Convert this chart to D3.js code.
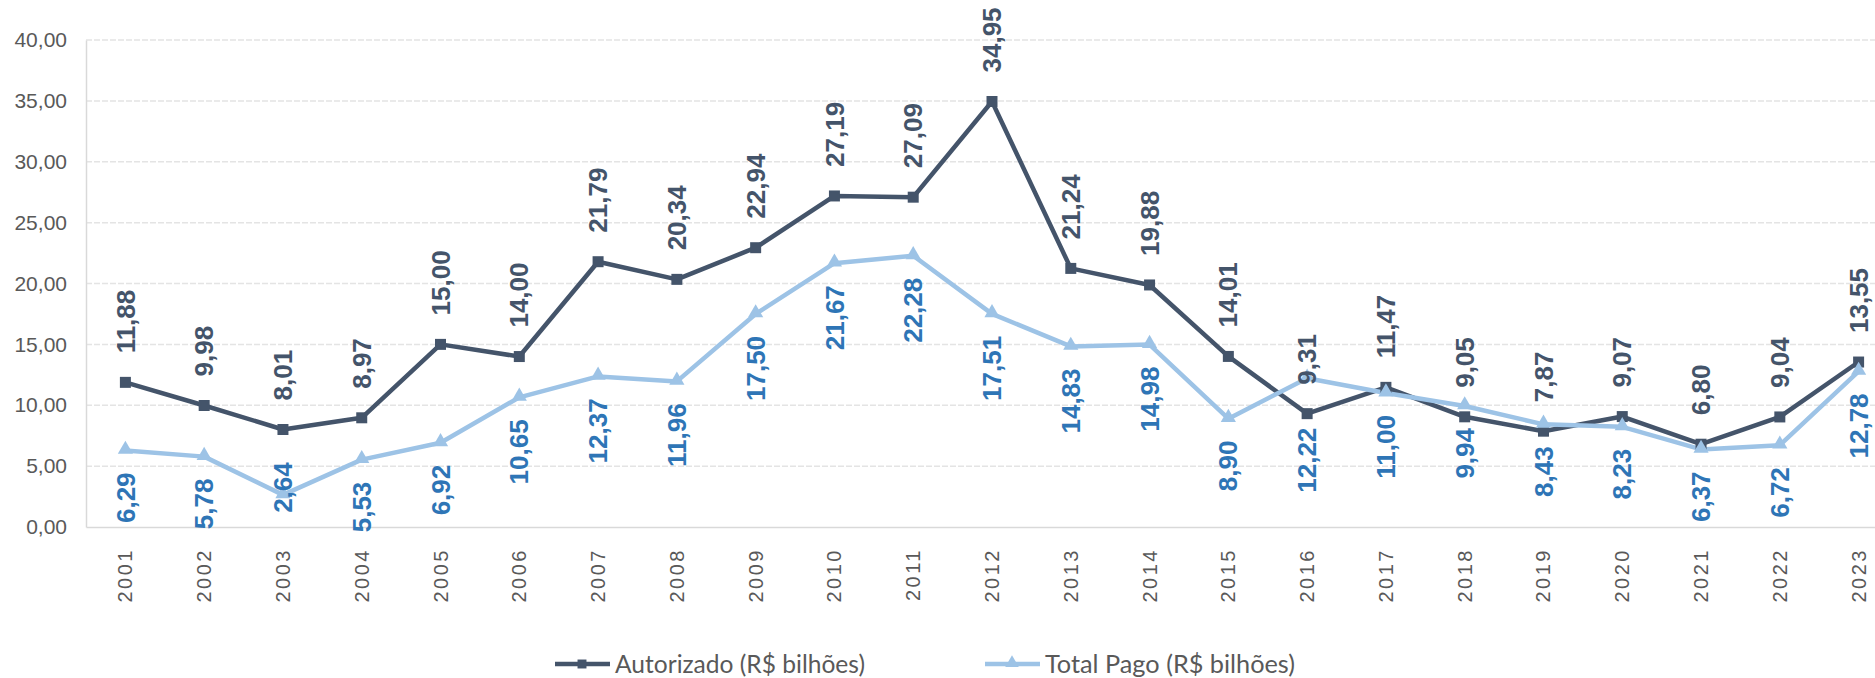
<!DOCTYPE html>
<html>
<head>
<meta charset="utf-8">
<script src="https://cdn.jsdelivr.net/npm/d3@7"></script>
<style>
  body { margin: 0; background: #fff; }
  svg { display: block; font-family: "Liberation Sans", Arial, sans-serif; }
</style>
</head>
<body>
<div id="chart"></div>
<script>
const years = ["2001","2002","2003","2004","2005","2006","2007","2008","2009","2010","2011","2012",
  "2013","2014","2015","2016","2017","2018","2019","2020","2021","2022","2023"];
const autorizado = [11.88, 9.98, 8.01, 8.97, 15.00, 14.00, 21.79, 20.34, 22.94, 27.19, 27.09, 34.95,
  21.24, 19.88, 14.01, 9.31, 11.47, 9.05, 7.87, 9.07, 6.80, 9.04, 13.55];
const totalPago = [6.29, 5.78, 2.64, 5.53, 6.92, 10.65, 12.37, 11.96, 17.50, 21.67, 22.28, 17.51,
  14.83, 14.98, 8.90, 12.22, 11.00, 9.94, 8.43, 8.23, 6.37, 6.72, 12.78];
const yTicks = [0, 5, 10, 15, 20, 25, 30, 35, 40];
const seriesNames = ["Autorizado (R$ bilhões)", "Total Pago (R$ bilhões)"];

const width = 1875, height = 678;
const plot = {left: 86, top: 40, bottom: 527, right: 1898};

const br = d3.formatLocale({decimal: ",", thousands: ".", grouping: [3], currency: ["R$ ", ""]});
const fmt = br.format(".2f");

const svg = d3.select("#chart").append("svg")
  .attr("width", width)
  .attr("height", height);

const x = d3.scaleBand()
  .domain(years)
  .range([plot.left, plot.right])
  .padding(0);
const cx = (d) => x(d) + x.bandwidth() / 2;

const y = d3.scaleLinear()
  .domain([0, 40])
  .range([plot.bottom, plot.top]);

// gridlines
svg.append("g")
  .selectAll("line")
  .data(yTicks.filter((t) => t > 0))
  .enter()
  .append("line")
  .attr("x1", plot.left)
  .attr("x2", width)
  .attr("y1", (d) => y(d))
  .attr("y2", (d) => y(d))
  .attr("stroke", "#e4e4e4")
  .attr("stroke-width", 1.5)
  .attr("stroke-dasharray", "6,2");

// y axis
const yAxis = d3.axisLeft(y)
  .tickValues(yTicks)
  .tickSize(0)
  .tickPadding(19)
  .tickFormat(fmt);

const gy = svg.append("g")
  .attr("class", "y-axis")
  .attr("transform", `translate(${plot.left},0)`)
  .call(yAxis);
gy.select(".domain").attr("stroke", "#d9d9d9").attr("stroke-width", 1.5);
gy.selectAll("text")
  .attr("fill", "#595959")
  .style("font-size", "21px")
  .style("font-family", "'Liberation Sans', Arial, sans-serif");

// x axis
const xAxis = d3.axisBottom(x).tickSize(0).tickFormat((d) => "");
const gx = svg.append("g")
  .attr("class", "x-axis")
  .attr("transform", `translate(0,${plot.bottom})`)
  .call(xAxis);
gx.select(".domain").attr("stroke", "#d9d9d9").attr("stroke-width", 1.5);

svg.append("g")
  .selectAll("text")
  .data(years)
  .enter()
  .append("text")
  .attr("transform", (d) => `translate(${cx(d)},${plot.bottom + 21}) rotate(-90)`)
  .attr("text-anchor", "end")
  .attr("dy", "0.35em")
  .attr("fill", "#595959")
  .style("font-size", "20px")
  .style("letter-spacing", "2.5px")
  .text((d) => d);

// lines
const line = d3.line()
  .x((d, i) => cx(years[i]))
  .y((d) => y(d));

const darkColor = "#44546a", lightColor = "#9dc3e6";
const darkLabel = "#44546a", lightLabel = "#2e75b6";

svg.append("path")
  .datum(autorizado)
  .attr("d", line)
  .attr("fill", "none")
  .attr("stroke", darkColor)
  .attr("stroke-width", 4.5)
  .attr("stroke-linejoin", "round");

svg.append("path")
  .datum(totalPago)
  .attr("d", line)
  .attr("fill", "none")
  .attr("stroke", lightColor)
  .attr("stroke-width", 4.5)
  .attr("stroke-linejoin", "round");

const square = d3.symbol().type(d3.symbolSquare).size(121);
const triangle = d3.symbol().type(d3.symbolTriangle).size(100);

svg.append("g")
  .selectAll("path")
  .data(autorizado)
  .enter()
  .append("path")
  .attr("d", square)
  .attr("transform", (d, i) => `translate(${cx(years[i])},${y(d)})`)
  .attr("fill", darkColor);

svg.append("g")
  .selectAll("path")
  .data(totalPago)
  .enter()
  .append("path")
  .attr("d", triangle)
  .attr("transform", (d, i) => `translate(${cx(years[i])},${y(d) - 1})`)
  .attr("fill", lightColor);

// data labels, rotated
svg.append("g")
  .selectAll("text")
  .data(autorizado)
  .enter()
  .append("text")
  .attr("transform", (d, i) => `translate(${cx(years[i])},${y(d) - 29}) rotate(-90)`)
  .attr("text-anchor", "start")
  .attr("dy", "0.35em")
  .attr("fill", darkLabel)
  .style("font-size", "26px")
  .style("font-weight", "bold")
  .text((d) => fmt(d));

const lowLabels = svg.append("g")
  .selectAll("text")
  .data(totalPago)
  .enter()
  .append("text")
  .attr("text-anchor", "end")
  .attr("dy", "0.35em")
  .attr("fill", lightLabel)
  .style("font-size", "26px")
  .style("font-weight", "bold")
  .text((d) => fmt(d));

lowLabels.each(function(d, i) {
  const len = this.getComputedTextLength();
  let top = y(d) + 22;
  // skip past the other marker if it sits under the label
  const other = y(autorizado[i]);
  if (other > top - 8 && other < top + len) top = other + 14;
  // keep labels that would run past the axis inside the chart
  if (top + len > plot.bottom + 10) top = y(d) + 18 - len;
  d3.select(this).attr("transform", `translate(${cx(years[i])},${top}) rotate(-90)`);
});

// legend
const legend = svg.append("g").attr("transform", "translate(0,664)");
const legendItems = [
  {name: seriesNames[0], color: darkColor, x: 555, sym: square},
  {name: seriesNames[1], color: lightColor, x: 985, sym: triangle}
];
legendItems.forEach((it) => {
  legend.append("line")
    .attr("x1", it.x)
    .attr("x2", it.x + 55)
    .attr("y1", 0)
    .attr("y2", 0)
    .attr("stroke", it.color)
    .attr("stroke-width", 4.5);
  legend.append("path")
    .attr("d", it.sym.size(80)())
    .attr("transform", `translate(${it.x + 27},${it.sym === triangle ? -1 : 0})`)
    .attr("fill", it.color);
  legend.append("text")
    .attr("x", it.x + 60)
    .attr("y", 9)
    .attr("fill", "#595959")
    .attr("textLength", 250)
    .attr("lengthAdjust", "spacingAndGlyphs")
    .style("font-family", "Lato, 'Open Sans', sans-serif")
    .style("font-size", "25px")
    .text(it.name);
});
</script>
</body>
</html>
